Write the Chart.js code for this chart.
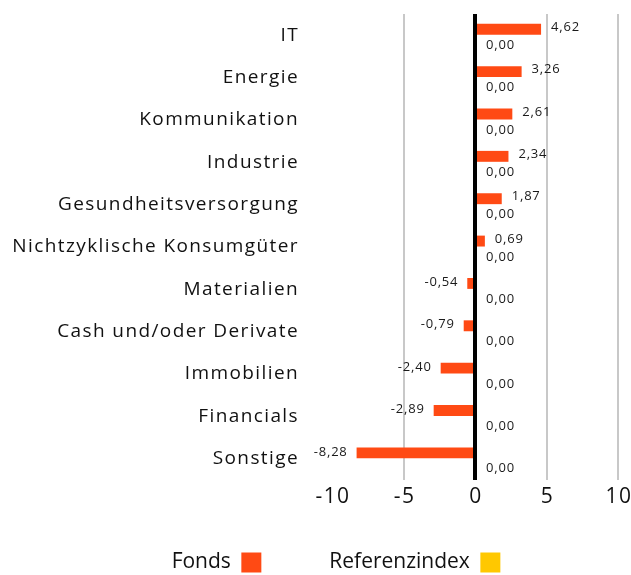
<!DOCTYPE html>
<html>
<head>
<meta charset="utf-8">
<script src="https://cdn.jsdelivr.net/npm/chart.js@4"></script>
<style>
  html, body { margin: 0; padding: 0; background: #fff; }
  #wrap { width: 631px; height: 575px; }
</style>
</head>
<body>
<div id="wrap"><canvas id="sektoren"></canvas></div>
<script>
const categories = ['IT', 'Energie', 'Kommunikation', 'Industrie', 'Gesundheitsversorgung',
  'Nichtzyklische Konsumgüter', 'Materialien', 'Cash und/oder Derivate', 'Immobilien',
  'Financials', 'Sonstige'];
const fondsValues = [4.62, 3.26, 2.61, 2.34, 1.87, 0.69, -0.54, -0.79, -2.40, -2.89, -8.28];
const referenzValues = [0, 0, 0, 0, 0, 0, 0, 0, 0, 0, 0];
const xTicks = [-10, -5, 0, 5, 10];

const FONT = '"Open Sans", sans-serif';

function fmt(v) {
  return v.toFixed(2).replace('.', ',');
}

// values next to the bars, x tick labels, letter spacing tweaks
const valueLabels = {
  id: 'valueLabels',
  beforeLayout(chart) {
    // legend gets measured wider here -> legend row sits further right
    chart.ctx.letterSpacing = '3px';
  },
  beforeDraw(chart) {
    chart.ctx.letterSpacing = '0px';
  },
  afterDatasetsDraw(chart) {
    const ctx = chart.ctx;
    ctx.save();
    ctx.letterSpacing = '0.8px';
    ctx.font = '13px ' + FONT;
    ctx.fillStyle = '#1a1a1a';
    ctx.textBaseline = 'middle';
    chart.data.datasets.forEach((ds, i) => {
      const meta = chart.getDatasetMeta(i);
      meta.data.forEach((bar, j) => {
        const v = ds.data[j];
        if (i === 0) {
          if (v >= 0) {
            ctx.textAlign = 'left';
            ctx.fillText(fmt(v), bar.x + 10, bar.y - 2);
          } else {
            ctx.textAlign = 'right';
            ctx.fillText(fmt(v), bar.x - 9, bar.y - 1);
          }
        } else {
          ctx.textAlign = 'left';
          ctx.fillText(fmt(v), bar.base + 11, bar.y + 4);
        }
      });
    });

    // x axis numbers
    const xs = chart.scales.x;
    ctx.font = '21px ' + FONT;
    ctx.letterSpacing = '1.4px';
    ctx.fillStyle = '#111';
    ctx.textAlign = 'center';
    xTicks.forEach(v => {
      ctx.fillText(String(v), xs.getPixelForValue(v) + 1, chart.chartArea.bottom + 17);
    });
    ctx.restore();
    // y labels are drawn after this (ticks z: 1)
    ctx.letterSpacing = '1.4px';
  }
};

const ctx1 = document.getElementById('sektoren').getContext('2d');

const chart1 = new Chart(ctx1, {
  type: 'bar',
  data: {
    labels: categories,
    datasets: [{
      label: 'Fonds',
      data: fondsValues,
      backgroundColor: '#FF4A14',
      categoryPercentage: 0.56,
      barPercentage: 0.92
    }, {
      label: 'Referenzindex',
      data: referenzValues,
      backgroundColor: '#FFC800',
      categoryPercentage: 0.56,
      barPercentage: 0.92
    }]
  },
  options: {
    indexAxis: 'y',
    responsive: true,
    maintainAspectRatio: false,
    animation: false,
    layout: { padding: { left: 0, right: 13, top: 14, bottom: -8 } },
    scales: {
      x: {
        min: -10,
        max: 10,
        afterFit(scale) {
          scale.height = 4;
          scale.paddingLeft = 0;
          scale.paddingRight = 0;
        },
        ticks: {
          display: false,
          stepSize: 5
        },
        grid: {
          drawTicks: false,
          color: c => c.tick && c.tick.value === 0 ? '#000' : (c.tick && c.tick.value === -10 ? 'rgba(0,0,0,0)' : '#c8c8c8'),
          lineWidth: c => c.tick && c.tick.value === 0 ? 4 : 2
        },
        border: { display: false }
      },
      y: {
        afterFit(scale) {
          scale.width = 332;
          scale.paddingTop = 0;
          scale.paddingBottom = 0;
        },
        ticks: {
          z: 1,
          padding: 33,
          autoSkip: false,
          color: '#111',
          font: { family: FONT, size: 19 }
        },
        grid: { display: false, drawTicks: false },
        border: { display: false }
      }
    },
    plugins: {
      legend: {
        position: 'bottom',
        rtl: true,
        reverse: true,
        labels: {
          boxWidth: 20,
          boxHeight: 20,
          padding: 68,
          color: '#111',
          font: { family: FONT, size: 21 }
        }
      },
      tooltip: { enabled: false }
    }
  },
  plugins: [valueLabels]
});
</script>
</body>
</html>
